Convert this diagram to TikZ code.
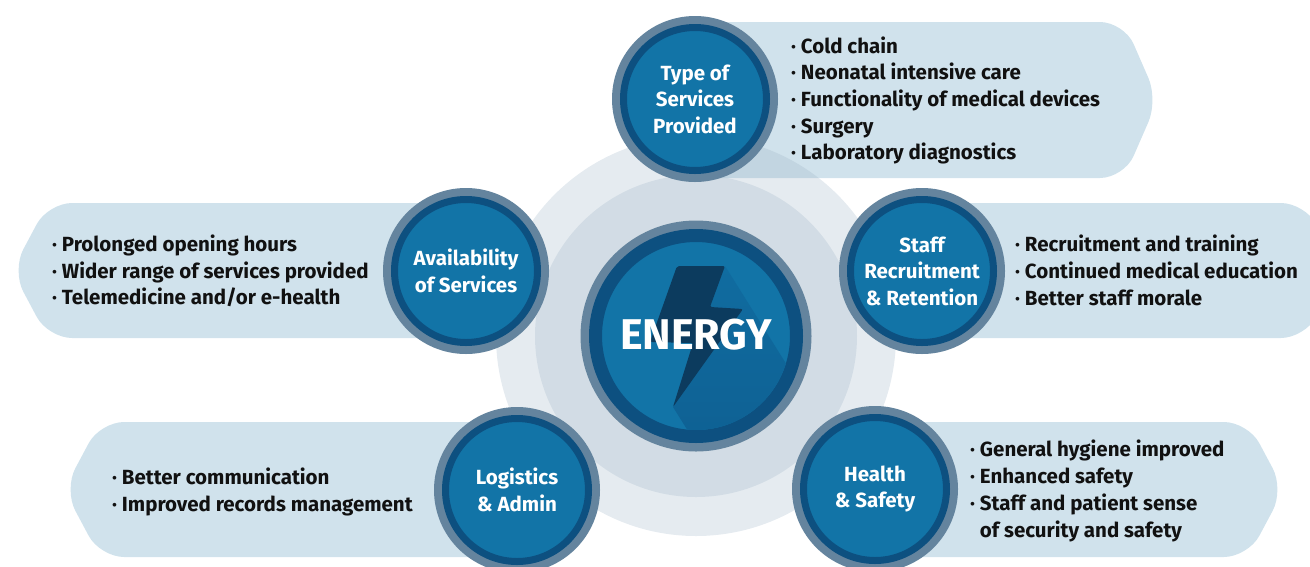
\documentclass[tikz,border=0pt]{standalone}
\usepackage{fontspec}
\setmainfont{Fira Sans}
\definecolor{pillc}{HTML}{D0E2EC}
\definecolor{haloc}{RGB}{159,181,199}
\definecolor{ringgray}{HTML}{64849E}
\definecolor{navyc}{HTML}{0D5080}
\definecolor{bluec}{HTML}{1274A7}
\definecolor{boltc}{HTML}{0C3B5E}
\definecolor{shadetop}{HTML}{106CA0}
\definecolor{shadebot}{HTML}{0C5283}
\definecolor{textc}{HTML}{111111}
\begin{document}
\begin{tikzpicture}[x=1pt,y=-1pt,
  pill/.style={fill=pillc, rounded corners=24pt},
  halo/.style={fill=haloc, fill opacity=.27},
  sat/.style={circle, fill=bluec, draw=navyc, line width=7pt, minimum size=143pt, inner sep=0pt,
    preaction={draw=ringgray, line width=23pt}, text=white, align=center,
    font=\bfseries\fontsize{20.5}{26.4}\selectfont},
  hub/.style={circle, fill=bluec, draw=navyc, line width=13pt, minimum size=201pt, inner sep=0pt,
    preaction={draw=ringgray, line width=30pt}},
  items/.style={anchor=west, align=left, inner sep=0pt, text=textc,
    font=\bfseries\fontsize{20.5}{26.7}\selectfont}
]
\useasboundingbox (0,0) rectangle (1310,566);
\clip (0,0) rectangle (1310,566);

% pills
\fill[pill] (695,22) -- (1124,22) -- (1158,100) -- (1124,178) -- (695,178) -- cycle;
\fill[pill] (466,203) -- (48,203) -- (12,270.5) -- (48,338) -- (466,338) -- cycle;
\fill[pill] (922,203) -- (1305,203) -- (1341,270.5) -- (1305,338) -- (922,338) -- cycle;
\fill[pill] (517,422) -- (100,422) -- (64,489.5) -- (100,557) -- (517,557) -- cycle;
\fill[pill] (875,422) -- (1248,422) -- (1284,489.5) -- (1248,557) -- (875,557) -- cycle;

% halos
\fill[halo] (696,336) circle (200pt);
\fill[halo] (696,336) circle (161pt);

% satellites
\node[sat] (type)  at (695,99)  {Type of\\Services\\Provided};
\node[sat] (avail) at (466,271) {Availability\\of Services};
\node[sat] (staff) at (922,271) {Staff\\Recruitment\\\& Retention};
\node[sat] (logi)  at (517,490) {Logistics\\\& Admin};
\node[sat] (hs)    at (875,489) {Health\\\& Safety};

% hub
\node[hub] (hub) at (696,336) {};
\begin{scope}
  \clip (696,336) circle (94pt);
  \shade[top color=shadetop, bottom color=shadebot]
    (725,266) -- (725+170,266+272) -- (673+170,407+272) -- (673,407) -- cycle;
  \fill[boltc, rounded corners=2pt]
    (677,266) -- (725,266) -- (710,307) -- (743,309) -- (673,407) -- (693,343) -- (650,342) -- cycle;
\end{scope}
\node[text=white, font=\bfseries\fontsize{43}{43}\selectfont, inner sep=0pt] (energy) at (696,335) {ENERGY};

% item lists
\node[items] (typel)  at (791,100.5) {· Cold chain\\· Neonatal intensive care\\· Functionality of medical devices\\· Surgery\\· Laboratory diagnostics};
\node[items] (availl) at (52,271)  {· Prolonged opening hours\\· Wider range of services provided\\· Telemedicine and/or e-health};
\node[items] (staffl) at (1015,270.5) {· Recruitment and training\\· Continued medical education\\· Better staff morale};
\node[items] (logil)  at (112,492) {· Better communication\\· Improved records management};
\node[items] (hsl)    at (970,491) {· General hygiene improved\\· Enhanced safety\\· Staff and patient sense\\\phantom{· }of security and safety};
\end{tikzpicture}
\end{document}
